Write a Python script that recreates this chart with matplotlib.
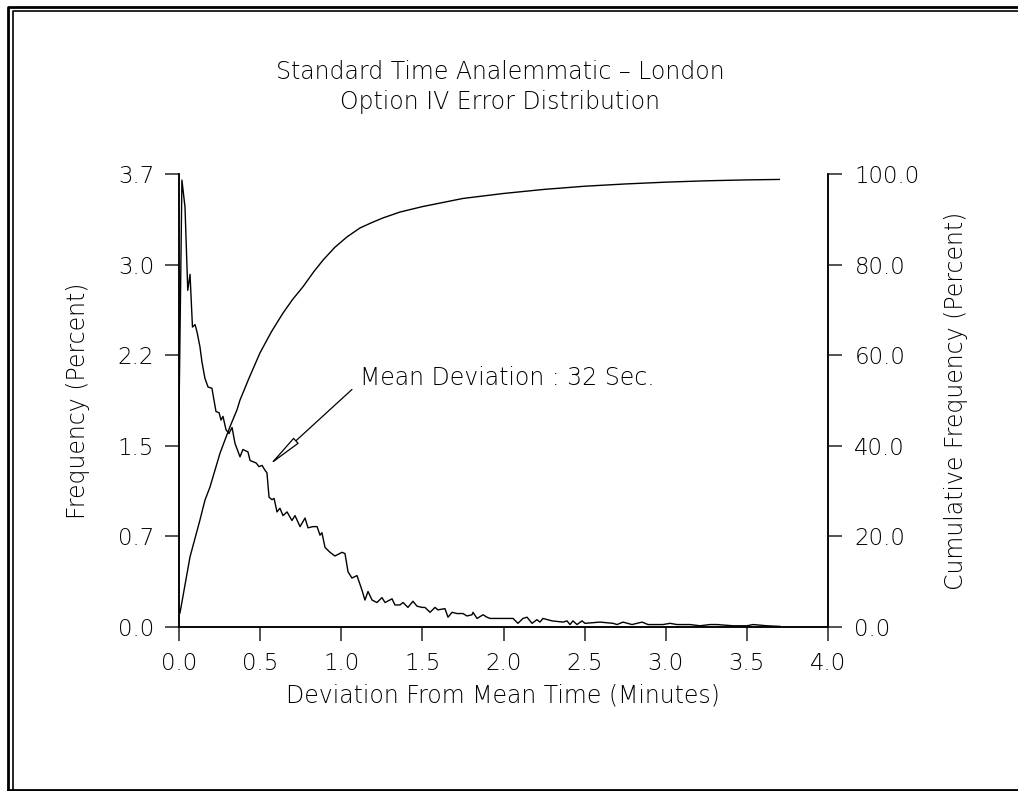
import numpy as np
import matplotlib
matplotlib.use("Agg")
import matplotlib.pyplot as plt
from matplotlib.lines import Line2D
from matplotlib.ticker import FormatStrFormatter

# deviation from mean time (minutes) and frequency (percent)
freq_x = [0.000, 0.018, 0.037, 0.054, 0.068, 0.083, 0.099, 0.111, 0.129, 0.142,
          0.160, 0.179, 0.203, 0.216, 0.228, 0.247, 0.259, 0.271, 0.290, 0.308,
          0.327, 0.345, 0.376, 0.394, 0.425, 0.438, 0.475, 0.493, 0.512, 0.530,
          0.542, 0.555, 0.573, 0.586, 0.604, 0.622, 0.641, 0.666, 0.696, 0.715,
          0.746, 0.777, 0.795, 0.826, 0.851, 0.869, 0.881, 0.900, 0.931, 0.961,
          1.005, 1.023, 1.042, 1.066, 1.097, 1.128, 1.146, 1.165, 1.190, 1.220,
          1.251, 1.270, 1.313, 1.331, 1.362, 1.381, 1.411, 1.442, 1.467, 1.498,
          1.516, 1.547, 1.578, 1.596, 1.639, 1.658, 1.683, 1.713, 1.750, 1.775,
          1.806, 1.812, 1.837, 1.874, 1.898, 1.917, 1.997, 2.059, 2.089, 2.120,
          2.145, 2.176, 2.206, 2.225, 2.243, 2.299, 2.367, 2.391, 2.410, 2.428,
          2.453, 2.484, 2.502, 2.595, 2.675, 2.700, 2.737, 2.792, 2.854, 2.891,
          2.946, 2.983, 3.026, 3.069, 3.149, 3.211, 3.273, 3.316, 3.414, 3.501,
          3.538, 3.624, 3.704]
freq_y = [1.73, 3.65, 3.43, 2.75, 2.88, 2.45, 2.47, 2.41, 2.29, 2.16,
          2.03, 1.96, 1.95, 1.85, 1.76, 1.75, 1.69, 1.72, 1.61, 1.58,
          1.63, 1.50, 1.39, 1.45, 1.43, 1.36, 1.34, 1.31, 1.32, 1.28,
          1.26, 1.06, 1.04, 1.05, 0.94, 0.97, 0.91, 0.94, 0.87, 0.91,
          0.82, 0.89, 0.81, 0.82, 0.82, 0.75, 0.77, 0.65, 0.61, 0.58,
          0.61, 0.60, 0.45, 0.40, 0.42, 0.30, 0.22, 0.29, 0.22, 0.20,
          0.24, 0.20, 0.23, 0.18, 0.18, 0.20, 0.16, 0.21, 0.17, 0.16,
          0.16, 0.12, 0.16, 0.14, 0.15, 0.08, 0.12, 0.11, 0.11, 0.09,
          0.10, 0.12, 0.07, 0.10, 0.08, 0.07, 0.07, 0.07, 0.03, 0.07,
          0.08, 0.03, 0.06, 0.04, 0.07, 0.05, 0.04, 0.05, 0.02, 0.05,
          0.02, 0.05, 0.03, 0.04, 0.03, 0.02, 0.04, 0.02, 0.04, 0.02,
          0.02, 0.02, 0.03, 0.02, 0.02, 0.01, 0.02, 0.02, 0.01, 0.01,
          0.02, 0.01, 0.005]

# cumulative frequency (percent)
cum_x = [0.006, 0.068, 0.129, 0.160, 0.191, 0.253, 0.314, 0.357, 0.376, 0.43,
         0.499, 0.57, 0.641, 0.70, 0.764, 0.83, 0.888, 0.96, 1.035, 1.116,
         1.19, 1.257, 1.362, 1.5, 1.75, 2.0, 2.25, 2.5, 2.75, 3.0,
         3.25, 3.5, 3.7]
cum_y = [3.1, 15.5, 23.6, 28.0, 30.9, 38.4, 44.2, 47.9, 50.1, 54.8,
         60.5, 65.2, 69.3, 72.3, 75.1, 78.4, 81.0, 83.8, 86.1, 88.1,
         89.3, 90.3, 91.6, 92.8, 94.6, 95.7, 96.6, 97.3, 97.8, 98.2,
         98.5, 98.7, 98.8]

title_lines = ["Standard Time Analemmatic \u2013 London", "Option IV Error Distribution"]
mean_dev_label = "Mean Deviation : 32 Sec."

plt.rcParams['font.family'] = ['DejaVu Sans']
plt.rcParams['font.weight'] = 'light'
fs = 17
tfs = 16.5

W, H = 1018, 791
fig = plt.figure(figsize=(W / 100, H / 100), dpi=100)
ax = fig.add_axes([179 / W, 1 - 627 / H, (828 - 179) / W, (627 - 174) / H])
ax2 = ax.twinx()

ax.plot(freq_x, freq_y, color='black', lw=1.0)
ax2.plot(cum_x, cum_y, color='black', lw=1.0)

ax.set_xlim(0, 4.0)
ax.set_ylim(0, 3.7)
ax2.set_ylim(0, 100)
ax.set_xticks(np.arange(0, 4.01, 0.5))
ax.set_yticks(np.linspace(0, 3.7, 6))
ax2.set_yticks(np.arange(0, 101, 20))
for a in (ax, ax2):
    a.xaxis.set_major_formatter(FormatStrFormatter('%.1f'))
    a.yaxis.set_major_formatter(FormatStrFormatter('%.1f'))
    a.spines['top'].set_visible(False)
    for s in a.spines.values():
        s.set_linewidth(1.1)

ax.tick_params(axis='x', direction='out', length=10, width=1.3, color='#444',
               pad=8, labelsize=tfs)
ax.tick_params(axis='y', direction='out', length=10, width=1.3, color='#444',
               pad=8, labelsize=tfs)
ax2.tick_params(axis='y', direction='out', length=10, width=1.3, color='#444',
                pad=9, labelsize=tfs)

# annotation arrow
ax.annotate('', xy=(0.555, 1.32), xytext=(1.066, 1.94),
            arrowprops=dict(arrowstyle='-|>,head_length=0.55,head_width=0.06',
                            fc='white', ec='black', lw=0.9, mutation_scale=40,
                            shrinkA=0, shrinkB=0))
ax.text(1.116, 2.03, mean_dev_label, fontsize=fs, va='center', ha='left')

cx = 500 / W
fig.text(cx, 1 - 72 / H, title_lines[0], fontsize=fs, ha='center', va='center')
fig.text(cx, 1 - 102 / H, title_lines[1], fontsize=fs, ha='center', va='center')
fig.text(503 / W, 1 - 695 / H, "Deviation From Mean Time (Minutes)", fontsize=fs,
         ha='center', va='center')
fig.text(78 / W, 1 - 401 / H, "Frequency (Percent)", fontsize=fs, rotation=90,
         ha='center', va='center')
fig.text(956 / W, 1 - 401 / H, "Cumulative Frequency (Percent)", fontsize=fs,
         rotation=90, ha='center', va='center')

# page frame
def px_line(xs, ys, lw):
    fig.add_artist(Line2D([x / W for x in xs], [1 - y / H for y in ys],
                          color='black', lw=lw, transform=fig.transFigure))

px_line([8, 8, W], [789.5, 7, 7], 2.0)
px_line([12.5, 12.5, W], [789.5, 11, 11], 1.2)
px_line([8, W], [789.5, 789.5], 2.0)

fig.savefig("out.png", dpi=100)
